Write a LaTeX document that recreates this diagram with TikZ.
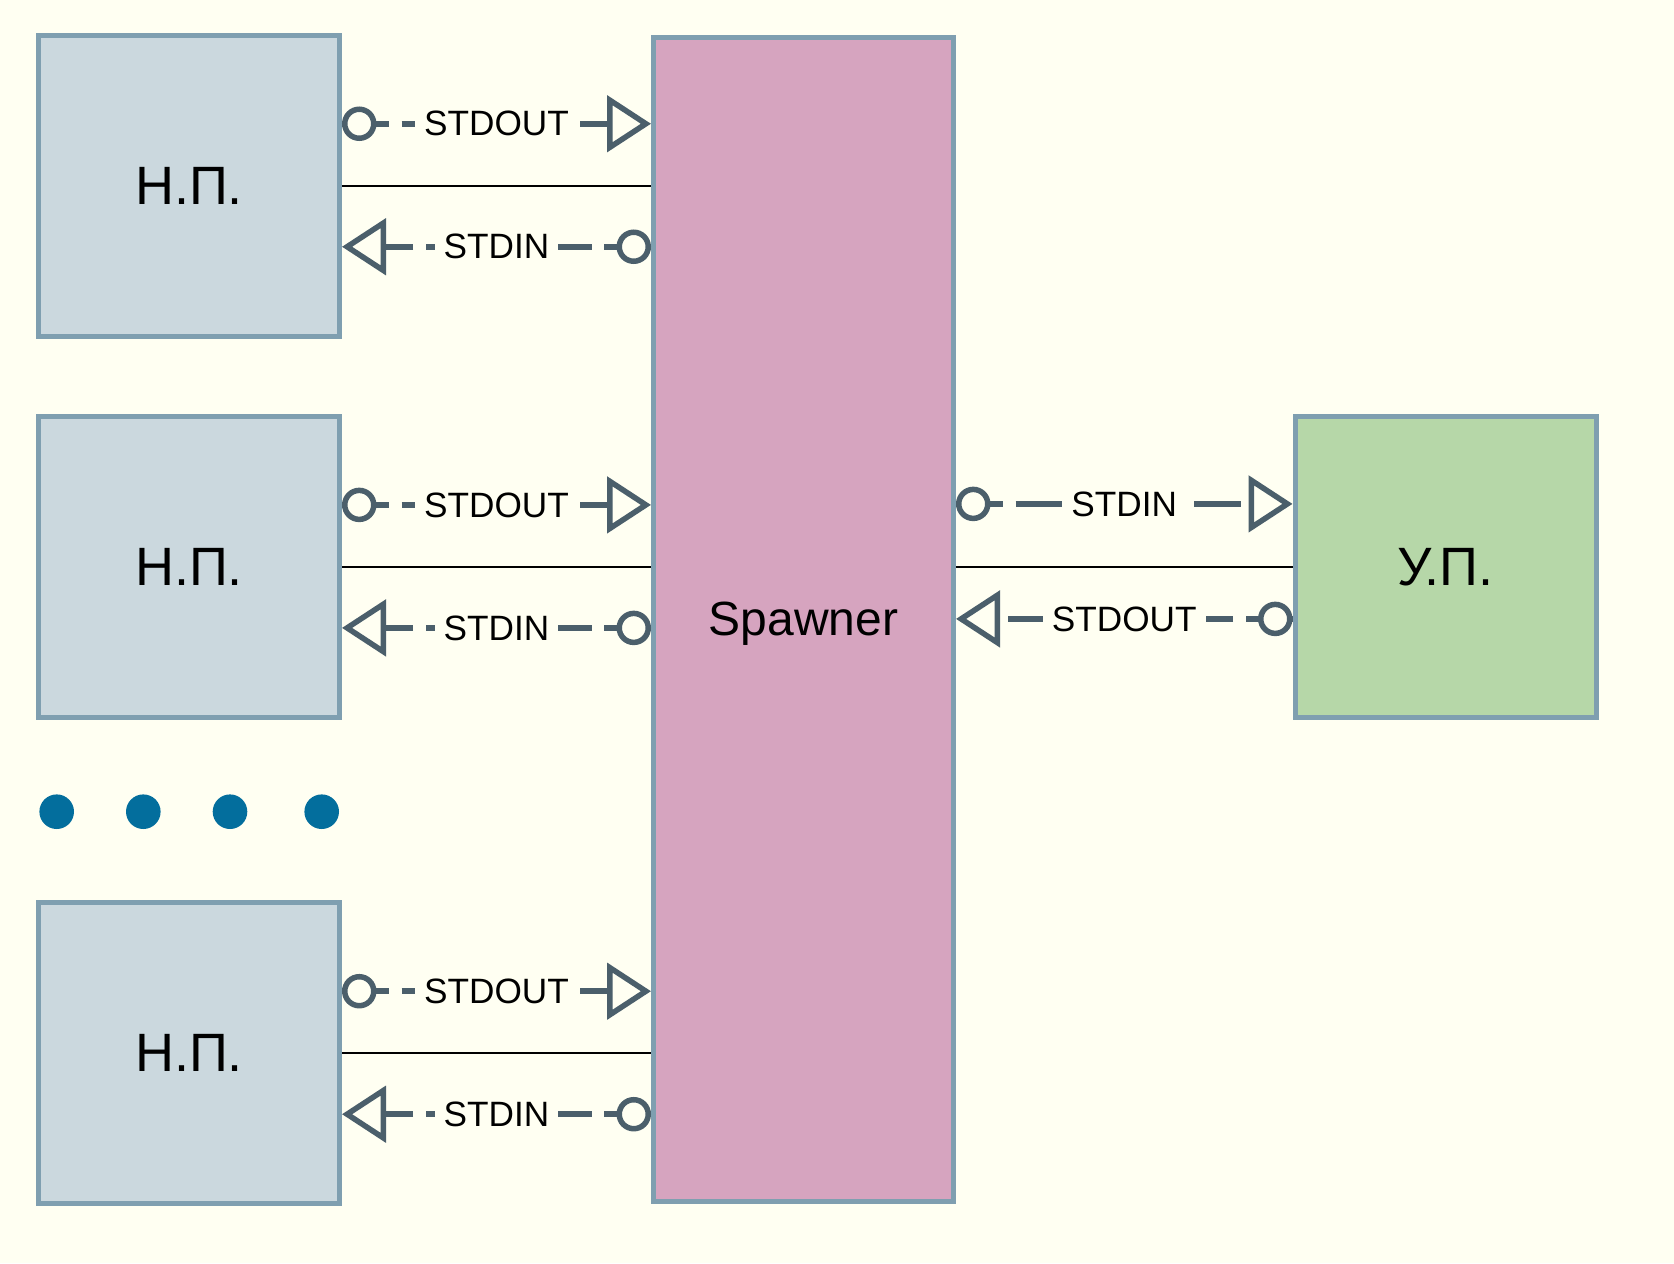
\documentclass[tikz,border=0pt]{standalone}
\usepackage{fontspec}
\setmainfont{Liberation Sans}
\usetikzlibrary{arrows.meta,calc}
\definecolor{bg}{HTML}{FFFFF2}
\definecolor{edge}{HTML}{7F9FB0}
\definecolor{npfill}{HTML}{CBD8DE}
\definecolor{spfill}{HTML}{D6A4BF}
\definecolor{upfill}{HTML}{B6D7A8}
\definecolor{pipe}{HTML}{4B5F6B}
\definecolor{dotc}{HTML}{036E9D}

\begin{document}
\begin{tikzpicture}[x=0.5pt,y=-0.5pt,
    proc/.style={draw=edge,line width=2.5pt,minimum width=150.5pt,minimum height=150.5pt,font=\fontsize{27}{30}\selectfont},
    chan/.style={draw=pipe,line width=2.75pt,dash pattern=on 23.5pt off 6.25pt,-{Triangle[open,length=22pt,width=28pt]}},
    plug/.style={circle,draw=pipe,fill=bg,line width=2.75pt,minimum size=14.5pt,inner sep=0pt},
    lbl/.style={fill=bg,inner xsep=4.5pt,inner ysep=1pt,font=\fontsize{17.6}{19}\selectfont}]
  \fill[bg] (0,0) rectangle (1674,1263);
  \useasboundingbox (0,0) rectangle (1674,1263);

  % processes
  \foreach \i/\y in {1/185.75,2/566.9,3/1053.2}
    \node[proc,fill=npfill] (np\i) at (189,\y) {Н.П.};
  \node[proc,fill=spfill,minimum width=150pt,minimum height=581.8pt,text depth=0pt,font=\fontsize{24}{26}\selectfont] (sp) at (803.5,619.2) {Spawner};
  \node[proc,fill=upfill] (up) at (1445.5,566.9) {У.П.};

  % pipes to the spawner
  \foreach \i in {1,2,3} {
    \draw[line width=1.1pt] (np\i.east) -- (sp.west |- np\i.east);
    \draw[chan] ($(np\i.east)+(0,-62)$) -- ($(sp.west |- np\i.east)+(0,-62)$);
    \node[plug,anchor=west] (o\i) at ($(np\i.east)+(0,-62)$) {};
    \node[lbl] (out\i) at ($(np\i.east)!0.5!(sp.west |- np\i.east)+(0,-62)$) {STDOUT};
    \draw[chan] ($(sp.west |- np\i.east)+(0,61)$) -- ($(np\i.east)+(0,61)$);
    \node[plug,anchor=east] (n\i) at ($(sp.west |- np\i.east)+(0,61)$) {};
    \node[lbl] (in\i) at ($(np\i.east)!0.5!(sp.west |- np\i.east)+(0,61)$) {STDIN};
  }

  % pipes to the main process
  \draw[line width=1.1pt] (sp.east |- up.west) -- (up.west);
  \draw[chan] ($(sp.east |- up.west)+(0,-63)$) -- ($(up.west)+(0,-63)$);
  \node[plug,anchor=west] (ou) at ($(sp.east |- up.west)+(0,-63)$) {};
  \node[lbl] (inu) at ($(sp.east |- up.west)!0.5!(up.west)+(0,-63)$) {STDIN};
  \draw[chan] ($(up.west)+(0,52)$) -- ($(sp.east |- up.west)+(0,52)$);
  \node[plug,anchor=east] (nu) at ($(up.west)+(0,52)$) {};
  \node[lbl] (outu) at ($(sp.east |- up.west)!0.5!(up.west)+(0,52)$) {STDOUT};

  % more processes
  \foreach \x in {56.7,143.3,230,321.7}
    \fill[dotc] (\x,811.7) circle[radius=8.65pt];
\end{tikzpicture}
\end{document}
